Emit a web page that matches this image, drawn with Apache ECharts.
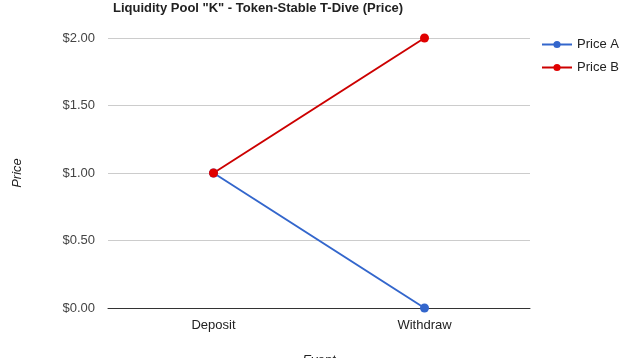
<!DOCTYPE html>
<html><head><meta charset="utf-8">
<script src="https://cdn.jsdelivr.net/npm/echarts@6/dist/echarts.min.js"></script>
<style>html,body{margin:0;padding:0;background:#fff}#c{width:640px;height:358px}</style>
</head><body><div id="c"></div>
<script>
const categories = ['Deposit', 'Withdraw'];
const priceA = [1.0, 0.0];
const priceB = [1.0, 2.0];
const yTicks = [0, 0.5, 1.0, 1.5, 2.0];

const chart = echarts.init(document.getElementById('c'));
chart.setOption({
  animation: false,
  title: {
    text: 'Liquidity Pool "K" - Token-Stable T-Dive (Price)',
    left: 108, top: -3,
    textStyle: {fontFamily: 'Arial, Liberation Sans', fontSize: 13, fontWeight: 'bold', color: '#222'}
  },
  legend: {
    orient: 'vertical', left: 536, top: 33, itemWidth: 30, itemHeight: 9, itemGap: 10,
    textStyle: {fontFamily: 'Arial, Liberation Sans', fontSize: 13, color: '#222'},
    data: ['Price A', 'Price B']
  },
  grid: {left: 108, right: 110, top: 38, bottom: 50, outerBoundsMode: 'none', containLabel: false},
  xAxis: {
    type: 'category', data: categories, boundaryGap: true,
    name: 'Event', nameLocation: 'middle', nameGap: 46,
    nameTextStyle: {fontFamily: 'Arial, Liberation Sans', fontSize: 13, fontStyle: 'italic', color: '#222'},
    axisLine: {lineStyle: {color: '#333', width: 1}},
    axisTick: {show: false},
    axisLabel: {fontFamily: 'Arial, Liberation Sans', fontSize: 13, color: '#222', margin: 11}
  },
  yAxis: {
    type: 'value', min: 0, max: 2, interval: 0.5,
    name: 'Price', nameLocation: 'middle', nameGap: 84,
    nameTextStyle: {fontFamily: 'Arial, Liberation Sans', fontSize: 13, fontStyle: 'italic', color: '#222'},
    axisLine: {show: false}, axisTick: {show: false},
    splitLine: {lineStyle: {color: '#ccc'}},
    axisLabel: {fontFamily: 'Arial, Liberation Sans', fontSize: 13, color: '#444', margin: 13,
      formatter: v => '$' + v.toFixed(2)}
  },
  series: [
    {name: 'Price A', type: 'line', data: priceA, symbol: 'circle', symbolSize: 9,
      itemStyle: {color: '#3366cc'}, lineStyle: {color: '#3366cc', width: 2}},
    {name: 'Price B', type: 'line', data: priceB, symbol: 'circle', symbolSize: 9,
      itemStyle: {color: '#e00000'}, lineStyle: {color: '#cc0000', width: 2}}
  ]
});
</script></body></html>
